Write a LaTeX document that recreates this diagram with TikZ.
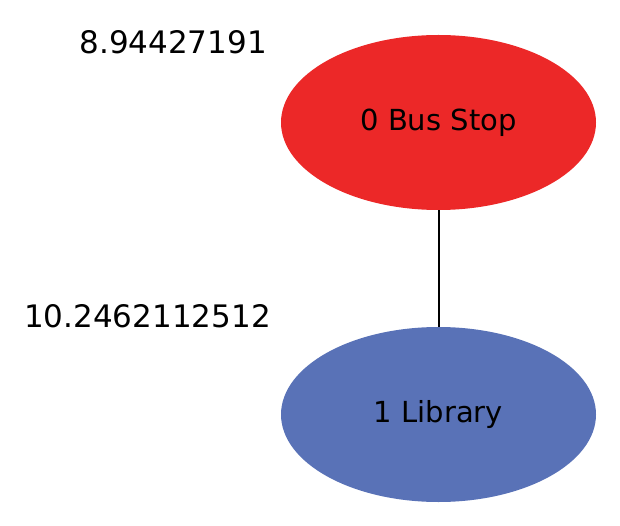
\documentclass[tikz,border=0pt]{standalone}
\usepackage{fontspec}
\setmainfont{DejaVu Sans}
\usetikzlibrary{shapes.geometric}
\definecolor{stopred}{RGB}{236,40,40}
\definecolor{placeblue}{RGB}{89,114,183}
\tikzset{
  place/.style={ellipse, minimum width=315pt, minimum height=175pt,
    inner sep=0pt, font=\fontsize{29}{34}\selectfont},
  dist/.style={anchor=east, inner sep=0pt, font=\fontsize{31}{36}\selectfont}
}
\begin{document}
\begin{tikzpicture}[x=1pt,y=-1pt]
  \useasboundingbox (0,0) rectangle (620,526);
  \draw
    (438.5,122.5) node[place, fill=stopred] (0){0 Bus Stop}
    (438.5,414.5) node[place, fill=placeblue] (1){1 Library}
    (267,42) node[dist] (d0){8.94427191}
    (271,316.5) node[dist] (d1){10.2462112512};
  \begin{scope}[-]
    \draw[line width=2pt] (0) to (1);
  \end{scope}
\end{tikzpicture}
\end{document}
